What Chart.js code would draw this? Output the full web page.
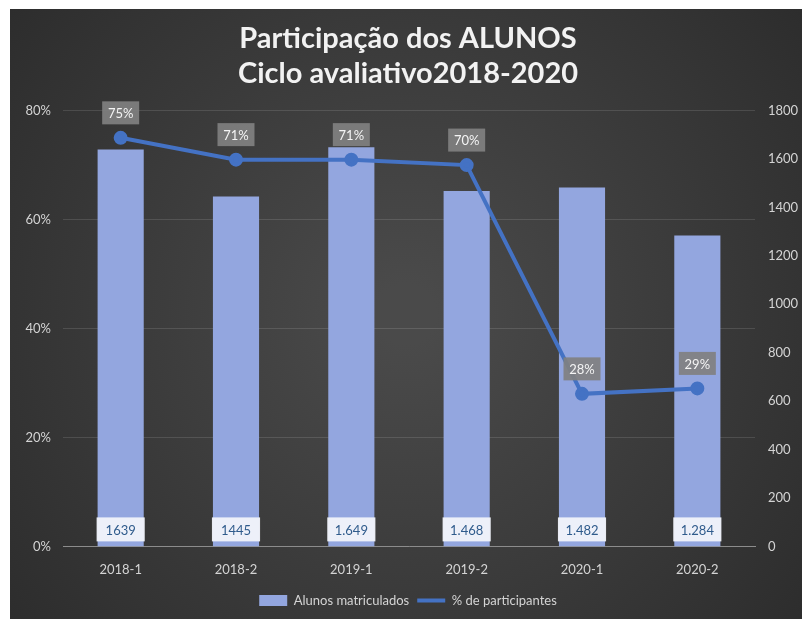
<!DOCTYPE html>
<html lang="pt">
<head>
<meta charset="UTF-8">
<title>Participação dos ALUNOS</title>
<script src="https://cdn.jsdelivr.net/npm/chart.js"></script>
<style>
  html, body { margin: 0; padding: 0; background: #fff; }
  #quadro { position: absolute; left: 10px; top: 9px; width: 792px; height: 610px; }
</style>
</head>
<body>
<div id="quadro"><canvas id="grafico"></canvas></div>
<script>
const ciclos = ["2018-1", "2018-2", "2019-1", "2019-2", "2020-1", "2020-2"];
const alunosMatriculados = [1639, 1445, 1649, 1468, 1482, 1284];
const alunosTexto = ["1639", "1445", "1.649", "1.468", "1.482", "1.284"];
const participantes = [0.75, 0.71, 0.71, 0.70, 0.28, 0.29];

const corTexto = "#d4d4d4";

// fundo escuro com gradiente radial
const fundo = {
    id: "fundo",
    beforeDraw(chart) {
        const { ctx, width, height } = chart;
        const g = ctx.createRadialGradient(width / 2, height / 2, 30, width / 2, height / 2, width * 0.65);
        g.addColorStop(0, "#4a4a4a");
        g.addColorStop(1, "#2c2c2c");
        ctx.save();
        ctx.fillStyle = g;
        ctx.fillRect(0, 0, width, height);
        ctx.restore();
    }
};

// rotulos de dados (caixas nas barras e na linha)
const rotulos = {
    id: "rotulos",
    afterDatasetsDraw(chart) {
        const ctx = chart.ctx;
        ctx.save();
        ctx.font = "13px Lato";
        ctx.textAlign = "center";
        ctx.textBaseline = "middle";
        chart.getDatasetMeta(0).data.forEach((bar, i) => {
            const w = bar.width + 2, h = 24, cy = bar.base - 17;
            ctx.fillStyle = "rgba(240,243,250,0.96)";
            ctx.fillRect(bar.x - w / 2, cy - h / 2, w, h);
            ctx.fillStyle = "#2f5b8c";
            ctx.fillText(alunosTexto[i], bar.x, cy + 1);
        });
        chart.getDatasetMeta(1).data.forEach((pt, i) => {
            const txt = Math.round(participantes[i] * 100) + "%";
            const w = 37, h = 23, cy = pt.y - 25;
            ctx.fillStyle = "rgba(128,128,128,0.92)";
            ctx.fillRect(pt.x - w / 2, cy - h / 2, w, h);
            ctx.fillStyle = "#f4f4f4";
            ctx.fillText(txt, pt.x, cy + 1);
        });
        ctx.restore();
    }
};

new Chart(document.getElementById("grafico"), {
    type: "bar",
    data: {
        labels: ciclos,
        datasets: [{
            type: "bar",
            label: "Alunos matriculados",
            data: alunosMatriculados,
            yAxisID: "y1",
            backgroundColor: "#93a6df",
            categoryPercentage: 1,
            barPercentage: 0.4,
            order: 1
        }, {
            type: "line",
            label: "% de participantes",
            data: participantes,
            yAxisID: "y",
            borderColor: "#4472c4",
            backgroundColor: "#4472c4",
            borderWidth: 4,
            pointRadius: 5,
            pointBackgroundColor: "#4472c4",
            tension: 0,
            order: 0
        }]
    },
    options: {
        responsive: true,
        maintainAspectRatio: false,
        animation: false,
        layout: { padding: { left: 8, right: 4, top: 0, bottom: 2 } },
        plugins: {
            title: {
                display: true,
                text: ["Participação dos ALUNOS", "Ciclo avaliativo2018-2020"],
                color: "#f2f2f2",
                font: { family: "Lato", size: 29, weight: "bold", lineHeight: 1.2 },
                padding: { top: 12, bottom: 20 }
            },
            legend: {
                position: "bottom",
                labels: {
                    color: corTexto,
                    font: { family: "Lato", size: 13 },
                    usePointStyle: true,
                    pointStyleWidth: 28,
                    boxHeight: 11,
                    padding: 8,
                    generateLabels(chart) {
                        const items = Chart.defaults.plugins.legend.labels.generateLabels(chart);
                        items.forEach(it => {
                            if (it.datasetIndex === 0) {
                                it.pointStyle = "rect";
                                it.lineWidth = 0;
                            } else {
                                it.pointStyle = "line";
                                it.lineWidth = 4;
                                it.strokeStyle = "#4472c4";
                            }
                        });
                        return items.sort((a, b) => a.datasetIndex - b.datasetIndex);
                    }
                }
            },
            tooltip: { enabled: false }
        },
        scales: {
            x: {
                grid: { display: false },
                border: { color: "#8c8c8c", width: 1 },
                ticks: { color: corTexto, font: { family: "Lato", size: 13 }, padding: 8 }
            },
            y: {
                position: "left",
                min: 0,
                max: 0.8,
                ticks: {
                    stepSize: 0.2,
                    color: corTexto,
                    font: { family: "Lato", size: 13 },
                    padding: 12,
                    callback: v => Math.round(v * 100) + "%"
                },
                grid: { color: "rgba(255,255,255,0.12)", drawTicks: false },
                border: { display: false },
                afterFit(scale) { scale.width = 45; }
            },
            y1: {
                position: "right",
                min: 0,
                max: 1800,
                ticks: {
                    stepSize: 200,
                    color: corTexto,
                    font: { family: "Lato", size: 13 },
                    padding: 5,
                    callback: v => String(v)
                },
                grid: { display: false },
                border: { display: false },
                afterFit(scale) { scale.width = 43; }
            }
        }
    },
    plugins: [fundo, rotulos]
});
</script>
</body>
</html>
